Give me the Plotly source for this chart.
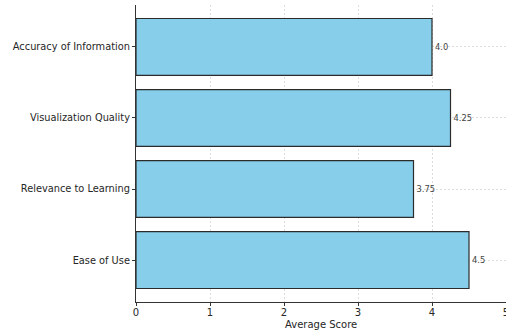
import plotly.graph_objects as go

categories = ["Ease of Use", "Relevance to Learning", "Visualization Quality", "Accuracy of Information"]
scores = [4.5, 3.75, 4.25, 4.0]
labels = [str(v) for v in scores]
x_ticks = [0, 1, 2, 3, 4, 5]
x_title = "Average Score"

fig = go.Figure()
fig.add_trace(go.Bar(
    y=categories, x=scores, orientation="h", width=0.8,
    marker=dict(color="#87CEEB", line=dict(color="#2b2b2b", width=1.2)),
    text=labels, textposition="outside", cliponaxis=False,
    textfont=dict(family="DejaVu Sans", size=8.3, color="#444444"),
))

fig.update_layout(
    width=506, height=331,
    margin=dict(l=136, r=0, t=5, b=29),
    paper_bgcolor="white", plot_bgcolor="white",
    font=dict(family="DejaVu Sans", size=10, color="#262626"),
    showlegend=False,
    annotations=[dict(
        text=x_title, xref="paper", yref="paper", x=0.5, y=0,
        xanchor="center", yanchor="top", yshift=-15, showarrow=False,
        font=dict(size=10, color="#262626"),
    )],
)
fig.update_xaxes(
    range=[0, 5], tickvals=x_ticks, ticktext=[str(t) for t in x_ticks],
    showline=True, linecolor="#333333", linewidth=1.2,
    ticks="outside", ticklen=3, tickcolor="#333333",
    showgrid=True, gridcolor="#dcdcdc", griddash="2px,2px", gridwidth=0.8,
    zeroline=False, ticklabeloverflow="allow", automargin=False,
    ticklabelstandoff=-2,
    tickfont=dict(size=10),
)
fig.update_yaxes(
    range=[-0.59, 3.59], automargin=False,
    showline=True, linecolor="#333333", linewidth=1.2,
    ticks="outside", ticklen=3, tickcolor="#333333",
    showgrid=True, gridcolor="#dcdcdc", griddash="2px,2px", gridwidth=0.8,
    tickfont=dict(size=9.8),
)
fig.write_html("out.html")
